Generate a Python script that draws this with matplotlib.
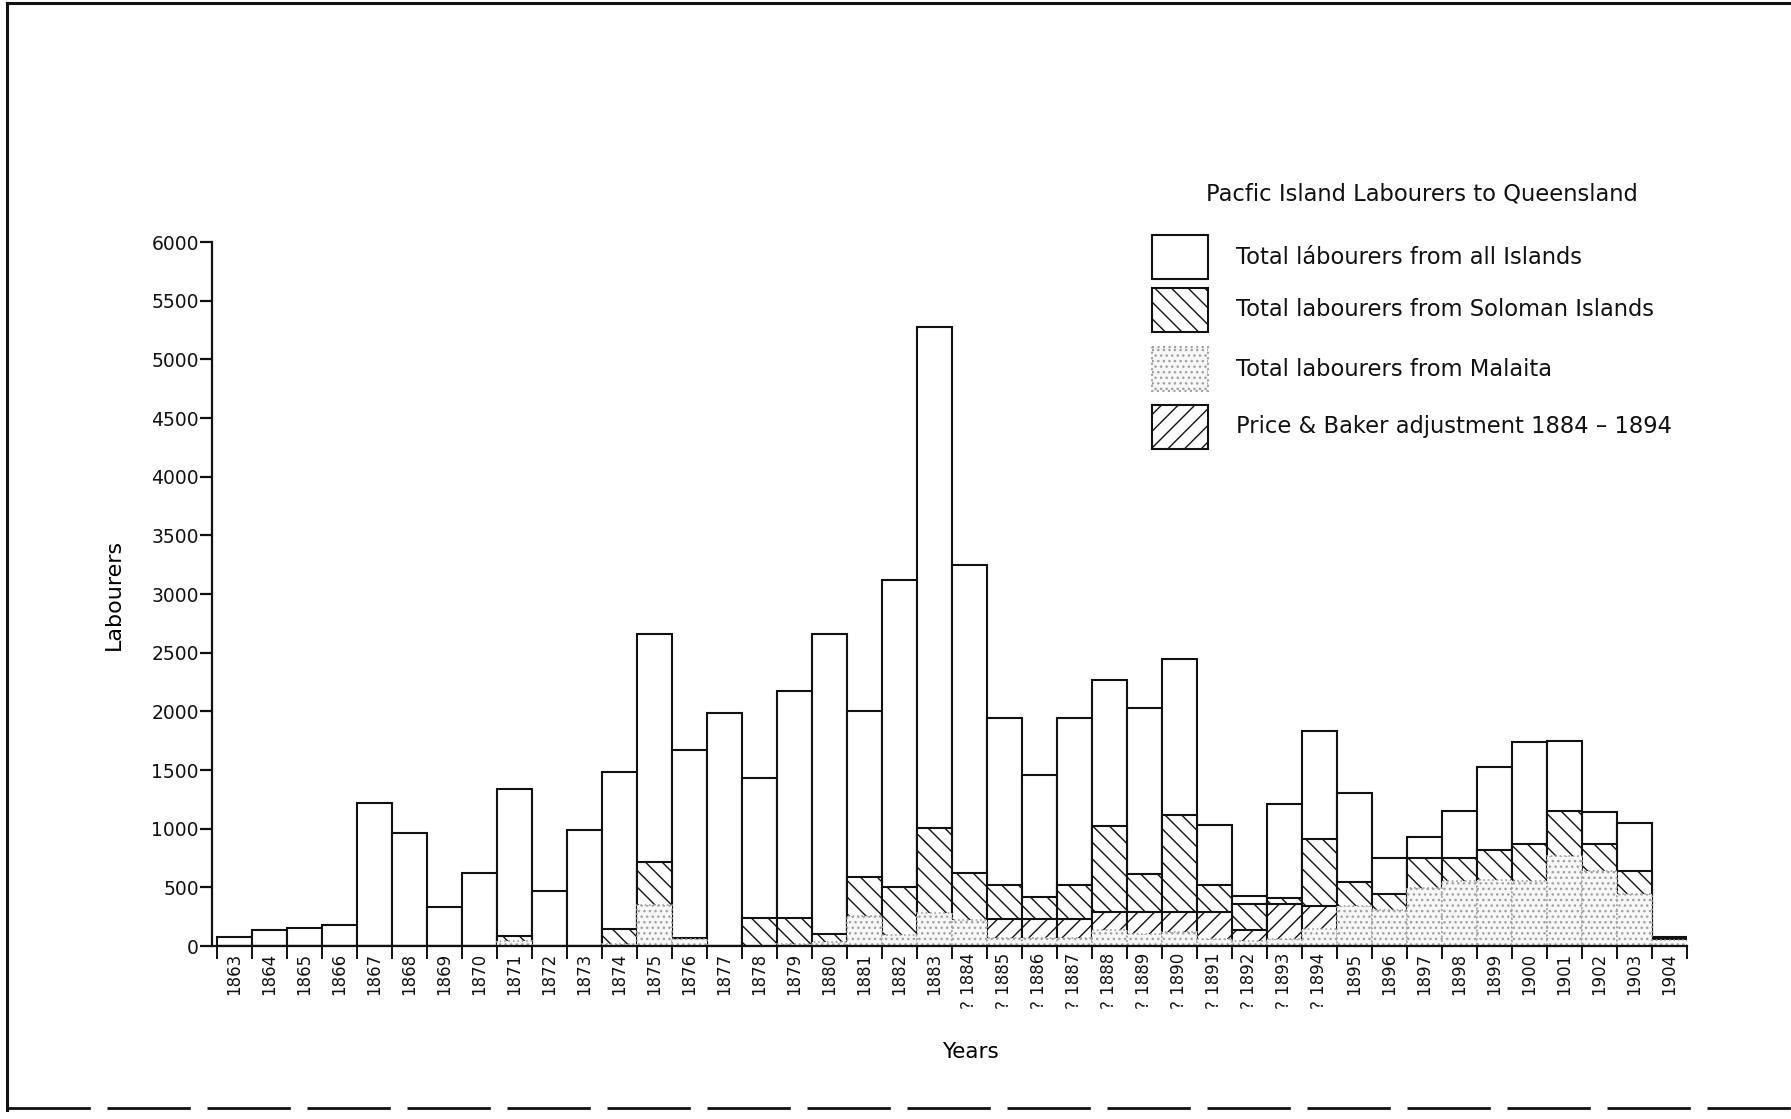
import matplotlib
matplotlib.use("Agg")
import matplotlib.pyplot as plt
from matplotlib.patches import Rectangle
import numpy as np

plt.rcParams['font.family'] = ['DejaVu Sans']
plt.rcParams['hatch.linewidth'] = 1.0

years = list(range(1863, 1905))
year_labels = [("? %d" % y) if 1884 <= y <= 1894 else str(y) for y in years]

total_all = [80, 140, 155, 175, 1220, 960, 335, 625, 1340, 465,
             985, 1485, 2660, 1670, 1985, 1430, 2175, 2655, 2000, 3120,
             5275, 3245, 1940, 1455, 1940, 2265, 2025, 2444, 1032, 428,
             1207, 1830, 1306, 748, 925, 1148, 1529, 1735, 1743, 1142,
             1050, 80]
solomon = [0, 0, 0, 0, 0, 0, 0, 0, 85, 0,
           0, 145, 712, 70, 0, 240, 240, 100, 585, 505,
           1004, 620, 520, 420, 520, 1026, 613, 1118, 520, 360,
           410, 915, 543, 442, 751, 751, 820, 867, 1147, 870,
           636, 60]
adjustment = [0, 0, 0, 0, 0, 0, 0, 0, 0, 0,
              0, 0, 0, 0, 0, 0, 0, 0, 0, 0,
              0, 0, 230, 231, 231, 289, 289, 289, 289, 140,
              355, 340, 0, 0, 0, 0, 0, 0, 0, 0,
              0, 0]
malaita = [0, 0, 0, 0, 0, 0, 0, 0, 40, 0,
           0, 15, 350, 60, 0, 0, 20, 30, 255, 90,
           280, 225, 72, 72, 72, 135, 100, 120, 60, 40,
           60, 145, 340, 305, 495, 555, 565, 550, 770, 636,
           440, 50]

legend_title = "Pacfic Island Labourers to Queensland"
legend_labels = ["Total lábourers from all Islands",
                 "Total labourers from Soloman Islands",
                 "Total labourers from Malaita",
                 "Price & Baker adjustment 1884 \u2013 1894"]

W, H = 1791, 1119
fig = plt.figure(figsize=(W / 100, H / 100), dpi=100)

ax = fig.add_axes([212 / W, 1 - 946 / H, (1687 - 212) / W, (946 - 242) / H])
x = np.arange(len(years))
ink = '#111111'
stip_edge = '#a0a0a0'
stip_face = '#f7f7f7'

ax.bar(x, total_all, width=1.0, facecolor='white', edgecolor=ink, linewidth=1.5, zorder=2)
ax.bar(x, solomon, width=1.0, facecolor='white', edgecolor=ink, linewidth=1.5,
       hatch='\\\\', zorder=3)
ax.bar(x, adjustment, width=1.0, facecolor='white', edgecolor=ink, linewidth=1.5,
       hatch='//', zorder=4)
ax.bar(x, malaita, width=1.0, facecolor=stip_face, edgecolor=stip_edge, linewidth=1.2,
       linestyle=':', hatch='...', zorder=5)

ax.set_xlim(-0.64, len(years) - 0.5)
ax.set_ylim(0, 6000)
for s in ['top', 'right']:
    ax.spines[s].set_visible(False)
for s in ['left', 'bottom']:
    ax.spines[s].set_linewidth(1.6)
    ax.spines[s].set_color(ink)
    ax.spines[s].set_zorder(6)

ax.set_yticks(np.arange(0, 6001, 500))
ax.set_yticklabels([str(v) for v in range(0, 6001, 500)])
ax.tick_params(axis='y', length=9, width=1.6, pad=0.5, labelsize=13.5, colors=ink)

ax.set_xticks(x)
ax.set_xticklabels(year_labels, rotation=90, fontsize=12)
ax.tick_params(axis='x', which='major', length=0, pad=5, colors=ink)
ax.set_xticks(np.arange(-0.5, len(years), 1.0), minor=True)
ax.tick_params(axis='x', which='minor', length=9, width=1.4, color=ink)

ax.set_xlabel("Years", fontsize=15.5, labelpad=14)
ax.xaxis.set_label_coords(0.514, -0.137)
ax.set_ylabel("Labourers", fontsize=16, labelpad=20)

# overlay for legend and frame
ov = fig.add_axes([0, 0, 1, 1], facecolor='none')
ov.set_xlim(0, W)
ov.set_ylim(H, 0)
ov.axis('off')

ov.text(1422, 194, legend_title, ha='center', va='center', fontsize=16.3, color=ink)
styles = [
    dict(facecolor='white', edgecolor=ink, hatch=None, linestyle='-', lw=1.5),
    dict(facecolor='white', edgecolor=ink, hatch='\\\\', linestyle='-', lw=1.5),
    dict(facecolor=stip_face, edgecolor=stip_edge, hatch='...', linestyle=':', lw=1.5),
    dict(facecolor='white', edgecolor=ink, hatch='//', linestyle='-', lw=1.5),
]
rows = [257, 310, 369, 427]
for yc, lab, st in zip(rows, legend_labels, styles):
    ov.add_patch(Rectangle((1152, yc - 22), 56, 44, facecolor=st['facecolor'],
                           edgecolor=st['edgecolor'], hatch=st['hatch'],
                           linestyle=st['linestyle'], linewidth=st['lw']))
    ov.text(1236, yc, lab, ha='left', va='center', fontsize=16.3, color=ink)

# page frame
ov.plot([7, W], [3, 3], color=ink, lw=2.2)
ov.plot([7, 7], [3, 1110], color=ink, lw=2.2)
ov.plot([7, W], [1108, 1108], color=ink, lw=2.0, dashes=(30, 6))

fig.savefig("out.png", dpi=100)
